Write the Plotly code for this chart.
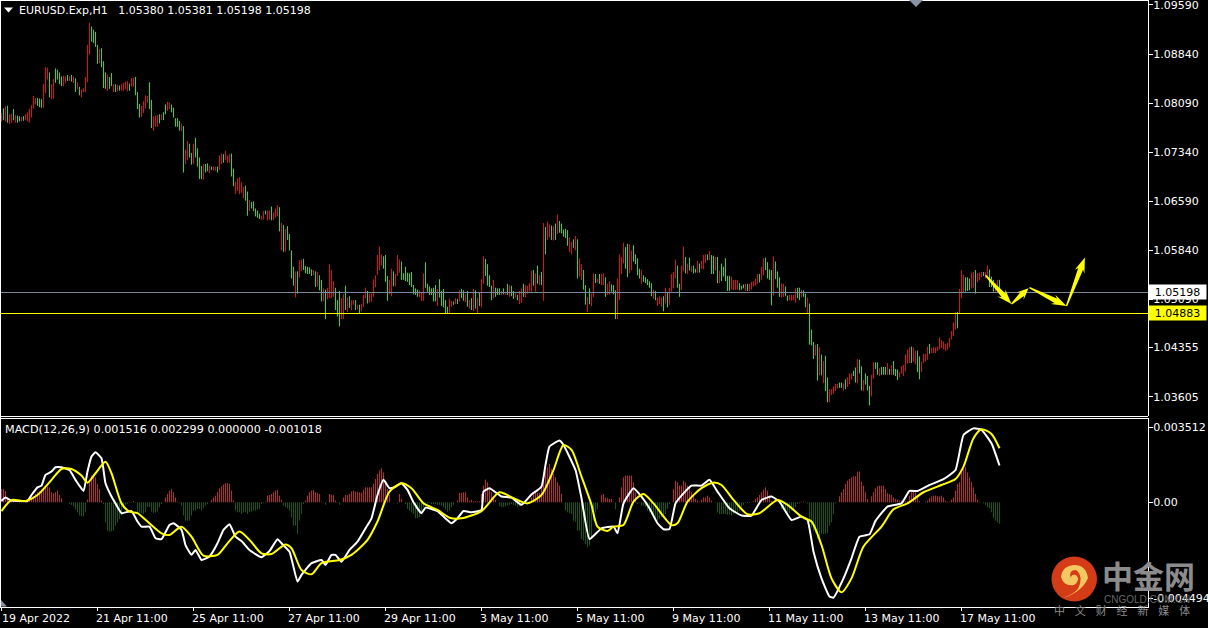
import math
import plotly.graph_objects as go

# ---- price data: bar highs / lows in pips above 1.0000 ----
high_pips = [
794,801,804,805,792,793,800,791,790,789, 788,789,792,795,800,806,820,817,817,816,
815,838,864,863,856,838,846,862,860,856, 850,851,850,852,850,852,850,847,841,834,
830,832,849,898,932,926,921,918,898,892, 893,873,856,853,849,855,838,838,837,836,
838,840,842,843,839,847,848,849,826,808, 805,812,821,820,841,814,789,790,791,792,
792,795,807,811,810,807,802,786,786,782, 778,774,738,751,747,733,747,756,740,726,
713,716,716,717,714,712,712,712,712,729, 732,731,736,729,731,732,709,689,694,696,
688,681,683,674,661,658,659,648,645,640, 637,644,645,645,645,651,642,648,653,650,
626,623,617,621,609,584,559,552,552,569, 570,571,560,559,558,555,554,552,551,546,
539,526,524,527,563,554,537,527,508,522, 511,517,530,512,514,508,508,508,501,501,
502,516,527,522,518,518,540,546,577,590, 578,575,577,545,539,556,552,548,577,570,
567,549,559,550,549,551,531,526,524,523, 519,549,566,533,529,526,527,531,525,540,
522,525,508,498,510,507,506,511,510,523, 525,523,517,522,508,511,525,523,512,519,
540,575,571,563,546,530,539,527,526,526, 522,526,521,533,531,530,522,518,516,522,
526,533,531,530,534,553,554,549,561,546, 551,626,620,628,624,622,621,625,639,629,
625,616,617,615,604,597,601,606,601,572, 563,554,531,513,526,518,549,548,541,548,
548,549,543,533,537,532,531,523,541,578, 574,596,589,594,593,584,592,578,572,556,
554,546,543,540,537,534,524,522,512,514, 512,514,527,519,527,548,551,570,561,533,
561,590,574,564,573,560,561,556,568,564, 568,577,578,578,583,577,576,574,574,553,
564,559,572,545,545,544,539,539,539,534, 530,532,533,533,533,536,537,541,548,548,
559,572,573,566,555,554,575,567,552,543, 534,533,529,515,516,516,516,526,527,527,
524,523,518,512,503,463,444,440,441,436, 425,415,423,390,372,372,376,380,380,382,
382,381,387,390,396,396,400,405,418,417, 407,386,396,392,377,394,413,413,413,404,
406,406,406,412,403,409,415,403,402,398, 407,409,425,432,436,437,436,431,431,422,
414,426,426,437,441,435,436,436,437,451, 447,445,441,443,450,461,474,490,490,525,
554,547,543,543,541,550,551,554,549,550, 551,551,551,561,555,544,539,534,539,539]
low_pips = [
781,783,781,779,777,779,783,779,779,781, 781,782,783,781,779,787,801,807,805,803,
802,802,824,845,818,815,816,840,845,838, 835,835,840,843,843,842,840,826,830,821,
818,826,826,841,883,903,901,895,869,870, 864,832,831,828,831,835,826,826,827,828,
828,828,830,827,828,834,834,821,800,787, 788,794,801,810,800,771,767,773,773,778,
783,783,792,797,800,795,787,773,773,767, 766,703,716,722,726,715,716,726,712,693,
693,692,703,705,702,707,706,706,703,707, 716,718,722,718,718,697,682,670,675,670,
672,664,660,637,644,648,644,636,634,632, 631,631,639,630,631,630,630,634,636,613,
584,582,582,600,584,541,530,512,518,542, 553,554,549,548,548,545,546,528,529,523,
506,506,479,509,511,511,513,493,483,468, 479,479,493,490,496,493,501,493,494,488,
491,498,511,503,504,506,513,528,546,554, 561,556,536,507,517,514,529,529,545,550,
539,539,537,536,531,528,517,516,513,513, 507,507,527,521,516,516,506,506,499,512,
499,497,488,488,488,498,501,502,502,506, 511,507,505,498,495,493,491,495,488,499,
497,533,545,530,528,508,511,513,516,516, 516,517,516,516,513,514,510,512,508,502,
504,513,512,518,521,521,530,521,533,531, 531,507,578,600,604,600,599,600,609,611,
610,605,603,591,582,578,588,584,541,544, 539,524,501,490,502,499,513,534,535,533,
531,531,513,516,517,521,517,479,479,508, 548,564,556,543,549,554,567,563,546,541,
533,536,534,531,527,514,510,508,499,502, 498,491,503,497,501,521,526,541,527,513,
523,552,549,548,553,551,549,550,550,550, 556,555,565,569,569,548,548,553,534,534,
537,544,537,522,522,524,523,524,524,523, 524,526,522,522,522,524,529,530,533,535,
539,546,554,541,539,500,515,540,527,513, 512,513,514,507,508,507,508,504,511,508,
512,513,497,488,440,439,418,423,385,393, 393,381,369,352,352,363,365,369,373,374,
374,370,372,375,379,387,392,382,381,396, 370,369,379,370,347,361,388,403,394,392,
394,394,394,394,394,394,394,392,386,390, 396,392,399,411,412,412,414,410,398,387,
398,412,414,417,426,427,427,427,430,433, 435,433,430,432,436,448,453,463,465,487,
511,519,521,522,523,526,527,518,535,538, 543,545,541,541,528,528,521,521,523,519]
bar_dir = (
"RGRGRRGRGG" "RGRRRRRRGG" "GRRRGRRGGG" "GRRGRGRGRG" "RRRRRGGGGR"
"GGGRGGRGRG" "RRRRGRRGGG" "RRRRGGRRRG" "RGGRRGGGGG" "RGRRGGRGGG"
"GRGGRGRRGR" "RGRRRGGRRR" "RRGGRGGGGG" "RRGRRGRRRG" "RGRGGGGRGR"
"RGGGGGRGRG" "GRGRRRRGGG" "RRGRGRRGRG" "RRRGRRRRRR" "RGGGRRGRRR"
"GGGGGGGGGR" "RRGGGGGGRG" "GGGGRRGRGR" "GGRGRGRGRG" "RRGGGGRGGG"
"RGRGRGGRGR" "RGRRRRGRGR" "GRGRRGRGRG" "GGGGRRGRGR" "RGGRGRRGRG"
"RRGRRGGGRR" "RRGGRRGGGG" "RGGGGGRGRR" "RGRGRRRRGG" "RRGRGRGGRG"
"RRRGRGGRGR" "GGGGGRRRRG" "GGRGRRRRRG" "RRGGGGRGGG" "RRGGRRRRGG"
"RGGRGGGRGR" "GRGGRRRRRG" "GRGRRRGGRG" "GRGGGRRGGR" "GGGRGRGGGR"
"RRRRRGRRGG" "RRRRGRRRRR" "RRRRRRRRGR" "RRGGGRRGRR" "RGRRGGGRRG"
)

# ---- MACD values in units of 0.00001 ----
hist_e5 = [
62,62,53,19,6,11,11,6,3,-5, -5,-3,2,8,12,23,28,39,47,51,
59,66,70,73,70,47,42,47,55,34, 19,0,0,0,-8,-12,-19,-34,-47,-62,
-66,-66,-47,12,94,125,133,117,86,62, 8,-8,-94,-133,-137,-137,-133,-109,-94,-78,
-62,-31,-12,-8,-3,-3,6,-3,-44,-47, -50,-55,-47,-23,-23,-44,-50,-47,-44,-23,
-8,0,23,39,55,62,47,23,3,-5, -16,-62,-86,-86,-86,-62,-39,-39,-31,-31,
-39,-28,-16,-8,0,12,23,31,47,66, 75,83,90,90,86,55,8,-39,-47,-47,
-55,-47,-47,-55,-47,-44,-39,-39,-34,-31, -8,-3,3,31,34,39,47,55,58,31,
12,-16,-23,-28,-39,-70,-109,-109,-148,-86, -55,-8,8,31,47,55,58,47,44,39,
3,-3,-12,0,39,36,34,8,-3,-12, 0,23,34,34,39,50,55,50,50,47,
44,59,70,70,70,70,86,109,133,148, 159,140,94,62,34,0,-3,0,-5,39,
16,0,-8,-31,-39,-47,-55,-75,-75,-70, -47,-23,-3,-5,-3,-8,-8,-8,-12,-12,
-16,-23,-34,-44,-39,-23,-12,0,8,44, 44,47,47,23,8,12,5,5,3,5,
39,78,106,94,70,47,19,12,0,-19, -23,-23,-19,-16,-12,-8,-12,-16,-23,-19,
-12,0,0,3,5,23,39,47,44,44, 70,109,148,164,179,156,133,117,94,78,
39,0,-39,-47,-50,-55,-86,-90,-133,-133, -172,-179,-195,-211,-203,-164,-86,-47,-34,0,
34,39,23,19,16,16,3,-34,0,23, 70,117,125,125,125,125,94,47,-8,-3,
-16,-16,-23,-39,-47,-55,-62,-78,-86,-78, -70,-70,-55,-31,-8,0,62,101,94,78,
78,101,94,78,70,47,39,16,8,3, 12,23,23,31,23,8,0,-3,-47,-55,
-55,-55,-55,-59,-59,-62,-55,-47,-47,-39, -23,-12,-3,-3,-3,0,5,16,23,34,
47,59,70,55,31,5,0,0,-3,-8, -31,-34,-39,-47,-50,-39,-31,-23,-8,-5,
3,3,0,-5,-94,-117,-133,-144,-172,-175, -148,-148,-148,-144,-109,-94,-55,-5,0,28,
47,62,86,101,109,117,122,122,144,144, 97,78,47,16,0,28,47,66,75,78,
78,78,62,44,39,34,23,16,12,8, 8,8,5,5,31,47,55,47,23,5,
0,0,3,8,19,28,31,31,28,28, 31,23,8,3,3,12,23,55,86,94,
140,156,164,140,117,94,70,39,12,3, 0,-5,-12,-23,-28,-47,-75,-86,-94,-101]

macd_bar = [0,2,5,10,13,15,18,20,22,25,27,30,34,37,41,43,45,47,50,52,55,57,60,65,68,70,74,77,80,84,86,90,92,95,97,100,104,108,111,114,117,120,124,130,134,138,140,144,148,150,155,160,162,165,167,170,174,178,182,185,188,191,194,197,200,
203,206,210,212,218,221,225,228,231,235,240,241,244,250,255,260,265,270,272,274,279,281,287,290,294,300,306,308,311,316,320,324,328,331,334,337,341,345,350,354,358,364,370,375,380,385,389,395,400,
403,406,410,414,416,421,425,429,434,437,443,450,454,458,464,471,477,481,486,490,495,499]
macd_e5 = [6,22,8,6,6,34,70,78,128,144,164,164,151,105,53,144,214,234,206,89,27,-5,-51,-41,-90,-114,-114,-168,-172,-106,-98,-129,-200,-246,-223,-270,-254,-192,-129,-103,-161,-181,-223,-257,-228,-173,-192,-231,-371,-340,-285,-270,-293,-246,-246,-278,-223,-184,-122,-75,34,105,66,73,89,
58,0,-51,-25,-41,-67,-98,-75,-41,-47,-36,50,66,27,22,-12,37,73,175,261,289,268,151,19,-172,-122,-114,-145,-5,66,27,-28,-98,-126,-125,-5,42,78,78,105,50,-28,-62,-62,11,27,3,-83,-67,
-83,-231,-356,-441,-446,-356,-262,-161,-150,-87,-20,-5,53,53,81,108,151,315,346,339,276,172]
signal_bar = [0,5,12,18,25,30,35,40,43,47,52,55,60,64,68,73,80,84,90,95,101,108,113,119,124,130,135,142,145,150,155,160,169,175,183,188,194,200,
205,211,218,224,230,240,249,256,263,270,276,281,285,290,295,298,303,306,311,316,321,326,335,338,343,350,356,360,366,373,379,388,393,400,
405,410,415,420,425,431,440,446,453,461,470,477,481,486,490,495,499]
signal_e5 = [-41,11,6,34,105,156,156,125,92,136,190,136,-5,-44,-51,-90,-145,-153,-114,-161,-250,-246,-192,-137,-176,-239,-242,-197,-215,-317,-337,-285,-270,-246,-176,-90,50,89,
66,-5,-36,-72,-75,-41,47,19,-5,34,151,268,245,120,-12,-114,-134,-114,-106,3,39,-5,-106,-98,3,66,92,81,11,-56,-51,11,-12,-67,
-90,-200,-356,-421,-356,-207,-114,-33,-5,47,81,109,167,300,342,320,253]

price_ticks = [1.09590,1.08840,1.08090,1.07340,1.06590,1.05840,1.05090,1.04355,1.03605]
price_tick_text = ["1.09590","1.08840","1.08090","1.07340","1.06590","1.05840","1.05090","1.04355","1.03605"]
macd_ticks = [0.003512,0.0,-0.004494]
macd_tick_text = ["0.003512","0.00","-0.004494"]
time_tick_bars = [0,48,96,144,192,240,288,336,384,432,480]
time_labels = ["19 Apr 2022","21 Apr 11:00","25 Apr 11:00","27 Apr 11:00","29 Apr 11:00","3 May 11:00","5 May 11:00",
               "9 May 11:00","11 May 11:00","13 May 11:00","17 May 11:00"]
last_price = 1.05198
level_price = 1.04883
arrow_start_bar = [492,505,514,532.5]
arrow_start_pips = [546,502,527,499]
arrow_end_bar = [505,513.5,532.5,541.7]
arrow_end_pips = [502,526,499,573]

# ---- layout constants ----
W, H = 1208, 628
PW, PH = 1148, 607
FONT = "DejaVu Sans"
X_RANGE = [-0.75, 573.25]
PRICE_RANGE = [1.0331, 1.09666]
MACD_RANGE = [-0.0049, 0.003945]
MAIN_BOTTOM, SUB_TOP = 416, 418
def xp(px): return px / PW
def yp(py): return 1 - py / PH
def bar_px(i): return (i - X_RANGE[0]) / (X_RANGE[1] - X_RANGE[0]) * PW
def price_py(p): return (PRICE_RANGE[1] - p) / (PRICE_RANGE[1] - PRICE_RANGE[0]) * MAIN_BOTTOM
def snapped(p): return yp(math.floor(price_py(p)) + 0.5)

n = min(len(high_pips), len(low_pips))
highs = [1 + v / 1e4 for v in high_pips[:n]]
lows = [1 + v / 1e4 for v in low_pips[:n]]
dirs = (bar_dir + "R" * n)[:n]
hist = [v / 1e5 for v in hist_e5]

def vsegments(idx, y0, y1):
    xs, ys = [], []
    for i, a, b in zip(idx, y0, y1):
        xs += [i, i, None]
        ys += [a, b, None]
    return xs, ys

fig = go.Figure()
for code, color in (("G", "#2ee00e"), ("R", "#e01010")):
    sel = [i for i in range(n) if dirs[i] == code]
    xs, ys = vsegments(sel, [lows[i] for i in sel], [highs[i] for i in sel])
    fig.add_trace(go.Scatter(x=xs, y=ys, mode="lines", line=dict(color=color, width=1), connectgaps=False,
                             xaxis="x", yaxis="y", showlegend=False, hoverinfo="skip"))
for pos, color in ((True, "#c0234a"), (False, "#0e5c0e")):
    sel = [i for i, v in enumerate(hist) if (v > 0) == pos and v != 0]
    xs, ys = vsegments(sel, [0.0] * len(sel), [hist[i] for i in sel])
    fig.add_trace(go.Scatter(x=xs, y=ys, mode="lines", line=dict(color=color, width=1), connectgaps=False,
                             xaxis="x2", yaxis="y2", showlegend=False, hoverinfo="skip"))
fig.add_trace(go.Scatter(x=macd_bar, y=[v / 1e5 for v in macd_e5], mode="lines",
                         line=dict(color="#ffffff", width=2, shape="spline", smoothing=0.4),
                         xaxis="x2", yaxis="y2", showlegend=False))
fig.add_trace(go.Scatter(x=signal_bar, y=[v / 1e5 for v in signal_e5], mode="lines",
                         line=dict(color="#ffff00", width=2, shape="spline", smoothing=0.7),
                         xaxis="x2", yaxis="y2", showlegend=False))

common_x = dict(range=X_RANGE, showgrid=False, zeroline=False, showticklabels=False, fixedrange=True, automargin=False)
axis_y = dict(side="right", showgrid=False, zeroline=False, showline=True, linecolor="#ffffff", linewidth=1,
              ticks="outside", ticklen=4, tickcolor="#ffffff", tickwidth=1, ticklabeloverflow="allow", automargin=False,
              ticklabelstandoff=-2, tickfont=dict(family=FONT, size=11, color="#ffffff"), fixedrange=True)

shapes = [
    dict(type="line", xref="paper", yref="paper", x0=0, x1=1, y0=snapped(last_price), y1=snapped(last_price),
         line=dict(color="#778899", width=1), layer="above"),
    dict(type="line", xref="paper", yref="paper", x0=0, x1=1, y0=snapped(level_price), y1=snapped(level_price),
         line=dict(color="#ffff00", width=1), layer="above"),
    dict(type="line", xref="paper", yref="paper", x0=0, x1=1, y0=yp(416.5), y1=yp(416.5), line=dict(color="#ffffff", width=1)),
    dict(type="line", xref="paper", yref="paper", x0=0, x1=1, y0=yp(418.5), y1=yp(418.5), line=dict(color="#ffffff", width=1)),
    dict(type="line", xref="paper", yref="paper", x0=0, x1=1, y0=yp(0.5), y1=yp(0.5), line=dict(color="#ffffff", width=1)),
    dict(type="line", xref="paper", yref="paper", x0=xp(0.5), x1=xp(0.5), y0=yp(0), y1=yp(607), line=dict(color="#ffffff", width=1)),
    # chart-shift marker, title menu triangle, corner marker
    dict(type="path", xref="paper", yref="paper",
         path=f"M {xp(909)} {yp(0)} L {xp(923)} {yp(0)} L {xp(916)} {yp(7)} Z", fillcolor="#8a94a6", line=dict(width=0)),
    dict(type="path", xref="paper", yref="paper",
         path=f"M {xp(4)} {yp(7.5)} L {xp(13)} {yp(7.5)} L {xp(8.5)} {yp(12.5)} Z", fillcolor="#ffffff", line=dict(width=0)),
    dict(type="path", xref="paper", yref="paper",
         path=f"M {xp(1)} {yp(600)} L {xp(7)} {yp(606.5)} L {xp(1)} {yp(606.5)} Z", fillcolor="#8a94a6", line=dict(width=0)),
    # watermark logo
    dict(type="circle", xref="paper", yref="paper", x0=xp(1051.5), x1=xp(1097), y0=yp(601.5), y1=yp(556.5),
         fillcolor="#d43c18", line=dict(width=0)),
    dict(type="path", xref="paper", yref="paper",
         path=(f"M {xp(1063)} {yp(598)} Q {xp(1082)} {yp(592)} {xp(1088)} {yp(578)} "
               f"Q {xp(1086)} {yp(565)} {xp(1074)} {yp(565)} Q {xp(1062)} {yp(566)} {xp(1061)} {yp(577)} "
               f"Q {xp(1064)} {yp(587)} {xp(1074)} {yp(585)} Q {xp(1081)} {yp(580)} {xp(1076)} {yp(575)} "
               f"Q {xp(1071)} {yp(574)} {xp(1071)} {yp(578)} Q {xp(1068)} {yp(570)} {xp(1076)} {yp(570)} "
               f"Q {xp(1084)} {yp(576)} {xp(1078)} {yp(589)} Q {xp(1072)} {yp(595)} {xp(1063)} {yp(598)} Z"),
         fillcolor="#f4c860", line=dict(width=0)),
]

# hand-drawn yellow tapered arrows, placed through the price and bar scales
def arrow_path(xs, ps, xe, pe):
    x0, y0, x1, y1 = bar_px(xs), price_py(1 + ps / 1e4), bar_px(xe), price_py(1 + pe / 1e4)
    L = math.hypot(x1 - x0, y1 - y0)
    ux, uy = (x1 - x0) / L, (y1 - y0) / L
    nx, ny = -uy, ux
    hl = min(15.0, L * 0.5)
    def pt(d, w):
        return f"{xp(x0 + ux * d + nx * w)} {yp(y0 + uy * d + ny * w)}"
    return (f"M {pt(0, 0.7)} L {pt(L - hl + 3, 2.6)} L {pt(L - hl, 5.2)} L {pt(L, 0)} "
            f"L {pt(L - hl, -5.2)} L {pt(L - hl + 3, -2.6)} L {pt(0, -0.7)} Z")
for xs, ps, xe, pe in zip(arrow_start_bar, arrow_start_pips, arrow_end_bar, arrow_end_pips):
    shapes.append(dict(type="path", xref="paper", yref="paper", path=arrow_path(xs, ps, xe, pe),
                       fillcolor="#ffff00", line=dict(width=0), layer="above"))

annotations = []
def text(px, py, s, color="#ffffff", size=11, family=FONT, anchor="left", **kw):
    annotations.append(dict(xref="paper", yref="paper", x=xp(px), y=yp(py), text=s, showarrow=False,
                            xanchor=anchor, yanchor="middle", font=dict(family=family, size=size, color=color),
                            borderpad=0, **kw))

text(18, 10, "EURUSD.Exp,H1&nbsp;&nbsp;&nbsp;1.05380 1.05381 1.05198 1.05198")
text(4, 429, "MACD(12,26,9) 0.001516 0.002299 0.000000 -0.001018", size=11.2)

# left-aligned time labels sit at their tick bars
for b, s in zip(time_tick_bars, time_labels):
    annotations.append(dict(xref="x2", yref="paper", x=max(b - 1.75, X_RANGE[0]), y=yp(618), text=s, showarrow=False,
                            xanchor="left", yanchor="middle", font=dict(family=FONT, size=11, color="#ffffff")))

# price labels with backgrounds
for price, bg in ((last_price, "#ffffff"), (level_price, "#ffff00")):
    annotations.append(dict(xref="paper", yref="y", x=xp(1148), y=price, text=f"{price:.5f}", showarrow=False,
                            xanchor="left", yanchor="middle", bgcolor=bg, borderpad=0, width=57, height=14,
                            font=dict(family=FONT, size=11, color="#000000")))

# watermark text
text(1148.5, 574, "<b>中金网</b>", color="#8c8c8c", size=31, family="Noto Sans CJK SC", anchor="center")
text(1103, 599, "CNGOLD.COM.CN", color="#666666", size=10, family="Liberation Sans")
text(1053, 610, "中&nbsp;&nbsp;&nbsp;&nbsp;文&nbsp;&nbsp;&nbsp;&nbsp;财&nbsp;&nbsp;&nbsp;&nbsp;经&nbsp;&nbsp;&nbsp;&nbsp;新&nbsp;&nbsp;&nbsp;&nbsp;媒&nbsp;&nbsp;&nbsp;&nbsp;体", color="#8c8c8c", size=11, family="Noto Sans CJK SC")

fig.update_layout(
    width=W, height=H, margin=dict(l=0, r=W - PW, t=0, b=H - PH, autoexpand=False),
    paper_bgcolor="#000000", plot_bgcolor="#000000", showlegend=False,
    xaxis=dict(common_x, anchor="y", ticks="", showline=False),
    xaxis2=dict(common_x, anchor="y2", showline=True, linecolor="#ffffff", linewidth=1,
                ticks="outside", ticklen=3, tickcolor="#ffffff",
                tickmode="array", tickvals=time_tick_bars),
    yaxis=dict(axis_y, domain=[yp(MAIN_BOTTOM), yp(0)], range=PRICE_RANGE, anchor="x",
               tickmode="array", tickvals=price_ticks, ticktext=price_tick_text),
    yaxis2=dict(axis_y, domain=[yp(PH), yp(SUB_TOP)], range=MACD_RANGE, anchor="x2",
                tickmode="array", tickvals=macd_ticks, ticktext=macd_tick_text),
    shapes=shapes, annotations=annotations,
)

fig.write_html("out.html", config={"displayModeBar": False},
               post_script="document.body.style.margin='0'")
